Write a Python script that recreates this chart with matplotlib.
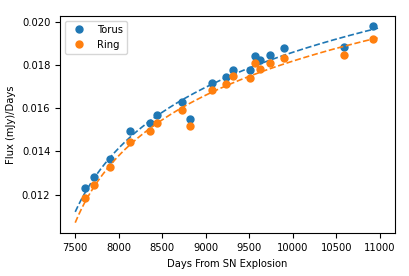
import numpy as np
import matplotlib
matplotlib.use("Agg")
import matplotlib.pyplot as plt

days = [7618, 7721, 7905, 8135, 8364, 8444, 8731, 8823, 9076, 9236, 9317,
        9512, 9569, 9626, 9741, 9902, 10590, 10923]
torus = [0.01228, 0.01281, 0.01365, 0.01495, 0.01532, 0.01569, 0.01629,
         0.01551, 0.01717, 0.01745, 0.01777, 0.01777, 0.01842, 0.01823,
         0.01846, 0.01879, 0.01883, 0.01980]
ring = [0.01186, 0.01246, 0.01329, 0.01445, 0.01495, 0.01532, 0.01592,
        0.01518, 0.01685, 0.01712, 0.01749, 0.01740, 0.01809, 0.01782,
        0.01809, 0.01832, 0.01846, 0.01920]
fit_start, fit_end = 7500, 10980
t0_torus, t0_ring = 7060, 7120

plt.rcParams['font.family'] = ['DejaVu Sans']
plt.rcParams['font.size'] = 7.2

fig = plt.figure(figsize=(4.1, 2.76), dpi=100)
ax = fig.add_axes([60/410, 1-233.3/276, (395-60)/410, (233.3-15.7)/276])

d = np.array(days, dtype=float)
tt = np.linspace(fit_start, fit_end, 200)
for vals, col, lab, t0 in [(torus, 'C0', 'Torus', t0_torus),
                           (ring, 'C1', 'Ring', t0_ring)]:
    v = np.array(vals)
    p = np.polyfit(np.log(d - t0), v, 1)
    ax.plot(d, v, 'o', color=col, markersize=5, label=lab)
    ax.plot(tt, np.polyval(p, np.log(tt - t0)), '--', color=col, lw=1.2)

ax.set_xlim(7325, 11175)
ax.set_ylim(0.0102, 0.0203)
ax.set_xticks([7500, 8000, 8500, 9000, 9500, 10000, 10500, 11000])
ax.set_yticks([0.012, 0.014, 0.016, 0.018, 0.020])
ax.set_xlabel('Days From SN Explosion')
ax.set_ylabel('Flux (mJy)/Days')
ax.legend(loc='upper left')
fig.savefig('out.png', dpi=100)
